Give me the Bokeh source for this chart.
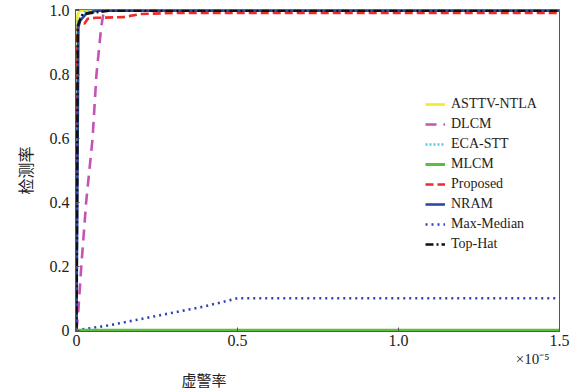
import math
from bokeh.plotting import figure
from bokeh.models import Legend, LegendItem, Title, FixedTicker
from bokeh.embed import file_html
from bokeh.resources import INLINE

# False-alarm rate in units of 1e-5, detection rate
astt_x = [0, 0.0, 0.004, 0.01, 1.5]
astt_y = [0, 0.96, 0.99, 1.0, 1.0]
dlcm_x = [0, 0.005, 0.015, 0.03, 0.05, 0.062, 0.077, 0.085, 0.1, 1.5]
dlcm_y = [0, 0.05, 0.2, 0.4, 0.6, 0.8, 0.95, 1.0, 1.0, 1.0]
eca_x = [0, 0.002, 0.005, 0.02, 0.03, 1.5]
eca_y = [0, 0.96, 0.97, 0.99, 1.0, 1.0]
mlcm_x = [0, 1.5]
mlcm_y = [0, 0]
prop_x = [0, 0.003, 0.006, 0.025, 0.035, 0.06, 0.145, 0.2, 0.3, 1.5]
prop_y = [0, 0.94, 0.96, 0.96, 0.975, 0.978, 0.98, 0.99, 0.993, 0.993]
nram_x = [0, 0.006, 0.012, 0.03, 0.06, 1.5]
nram_y = [0, 0.95, 0.97, 0.99, 1.0, 1.0]
mm_x = [0, 0.1, 0.2, 0.3, 0.4, 0.48, 0.5, 1.5]
mm_y = [0, 0.015, 0.035, 0.055, 0.075, 0.095, 0.1, 0.1]
th_x = [0, 0.004, 0.01, 0.02, 0.1, 1.5]
th_y = [0, 0.95, 0.97, 0.99, 1.0, 1.0]

names = ["ASTTV-NTLA", "DLCM", "ECA-STT", "MLCM", "Proposed", "NRAM", "Max-Median", "Top-Hat"]
x_ticks = [0, 0.5, 1.0, 1.5]
x_tick_labels = ["0", "0.5", "1.0", "1.5"]
y_ticks = [0, 0.2, 0.4, 0.6, 0.8, 1.0]
y_tick_labels = ["0", "0.2", "0.4", "0.6", "0.8", "1.0"]

p = figure(width=572, height=389, output_backend="svg", toolbar_location=None,
           x_range=(-0.003, 1.5), y_range=(-0.004, 1.004),
           min_border_left=73, min_border_right=13, min_border_top=9, min_border_bottom=55)
p.background_fill_color = "white"
p.border_fill_color = "white"
p.outline_line_color = "#555555"
p.outline_line_width = 1
p.grid.visible = False

serif = "Liberation Serif"
for ax in (p.xaxis[0], p.yaxis[0]):
    ax.axis_line_color = "#555555"
    ax.major_tick_in = 4
    ax.major_tick_out = 0
    ax.minor_tick_line_color = None
    ax.major_tick_line_color = "#555555"
    ax.major_label_text_font = serif
    ax.major_label_text_font_size = "16px"
    ax.major_label_text_color = "#222222"
p.xaxis.ticker = FixedTicker(ticks=x_ticks)
p.yaxis.ticker = FixedTicker(ticks=y_ticks)
p.xaxis.major_label_overrides = {t: l for t, l in zip(x_ticks, x_tick_labels)}
p.yaxis.major_label_overrides = {t: l for t, l in zip(y_ticks, y_tick_labels)}
p.xaxis.major_label_standoff = 3
p.yaxis.major_label_standoff = 6

lw = 2.6
r_astt = p.line(astt_x, astt_y, color="#f2ea2a", line_width=lw)
r_dlcm = p.line(dlcm_x, dlcm_y, color="#c453b4", line_width=lw, line_dash="11 7")
r_eca = p.line(eca_x, eca_y, color="#5cc8ea", line_width=lw, line_dash="2 2")
r_prop = p.line(prop_x, prop_y, color="#ee2b2b", line_width=lw, line_dash="8 4")
r_nram = p.line(nram_x, nram_y, color="#2a4aa8", line_width=lw)
r_mm = p.line(mm_x, mm_y, color="#2b45b8", line_width=lw, line_dash="2 4")
r_th = p.line(th_x, th_y, color="#111111", line_width=lw, line_dash="8 3 2 3")
r_mlcm = p.line(mlcm_x, mlcm_y, color="#5cbf3c", line_width=3)

renderers = [r_astt, r_dlcm, r_eca, r_mlcm, r_prop, r_nram, r_mm, r_th]
legend = Legend(items=[LegendItem(label=n, renderers=[r]) for n, r in zip(names, renderers)],
                location=(350, 78), orientation="vertical")
legend.background_fill_alpha = 0
legend.border_line_color = None
legend.padding = 0
legend.margin = 0
legend.spacing = 2
legend.glyph_width = 20
legend.glyph_height = 18
legend.label_height = 18
legend.label_standoff = 6
legend.label_text_font = serif
legend.label_text_font_size = "14px"
legend.label_text_color = "#222222"
p.add_layout(legend, "center")

p.add_layout(Title(text="×10⁻⁵", align="right", offset=10, standoff=0,
                   text_font=serif, text_font_size="15px", text_font_style="normal",
                   text_color="#222222"), "below")
p.add_layout(Title(text="虚警率", align="left", offset=106, standoff=0,
                   text_font="Noto Sans CJK SC", text_font_size="15px", text_font_style="normal",
                   text_color="#222222"), "below")
p.add_layout(Title(text="检测率", align="center", standoff=20,
                   text_font="Noto Sans CJK SC", text_font_size="16px", text_font_style="normal",
                   text_color="#222222"), "left")

open("out.html", "w").write(file_html(p, INLINE))
